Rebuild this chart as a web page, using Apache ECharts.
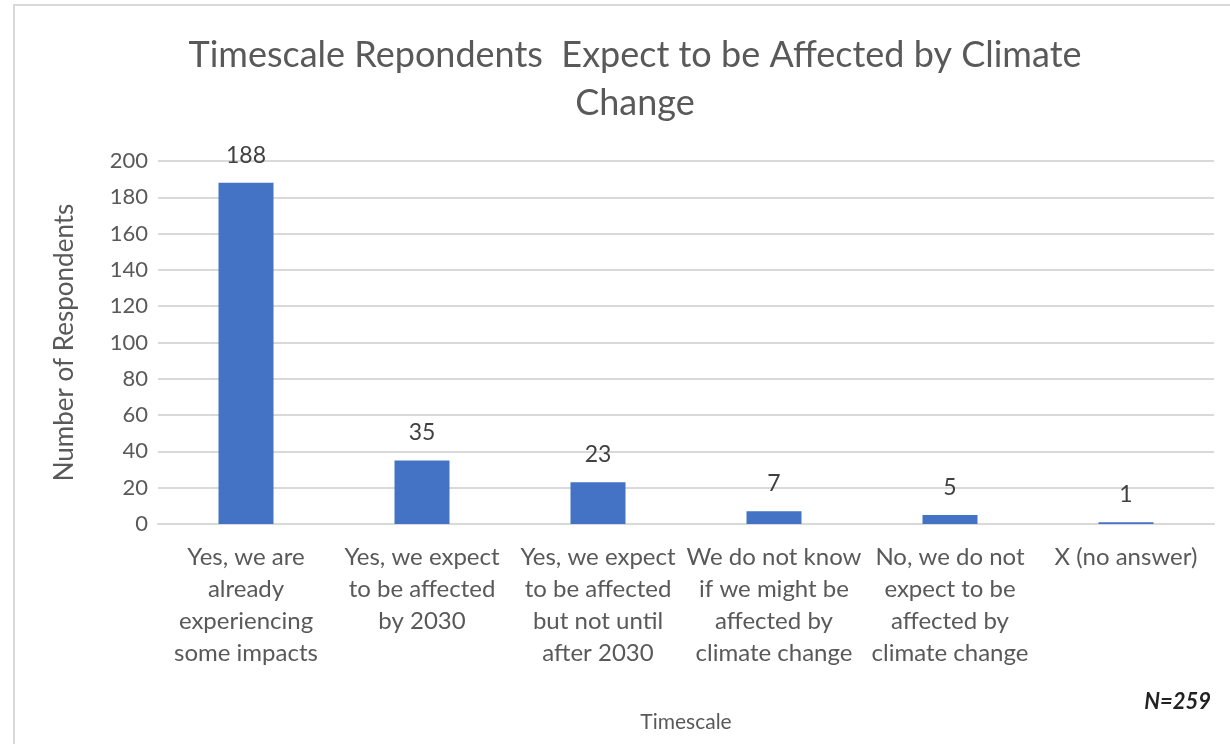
<!DOCTYPE html>
<html>
<head>
<meta charset="utf-8">
<script src="https://cdn.jsdelivr.net/npm/echarts@6/dist/echarts.min.js"></script>
<style>
  html, body { margin: 0; padding: 0; background: #fff; }
  #chart { width: 1230px; height: 744px; }
</style>
</head>
<body>
<div id="chart"></div>
<script>
// chart data
const categories = [
  'Yes, we are\nalready\nexperiencing\nsome impacts',
  'Yes, we expect\nto be affected\nby 2030',
  'Yes, we expect\nto be affected\nbut not until\nafter 2030',
  'We do not know\nif we might be\naffected by\nclimate change',
  'No, we do not\nexpect to be\naffected by\nclimate change',
  'X (no answer)'
];
const respondents = [188, 35, 23, 7, 5, 1];
const yTicks = [0, 20, 40, 60, 80, 100, 120, 140, 160, 180, 200];

const font = 'Lato, "Noto Sans", sans-serif';
const grey = '#595959';

const chart = echarts.init(document.getElementById('chart'));
chart.setOption({
  animation: false,
  backgroundColor: '#fff',
  title: {
    text: 'Timescale Repondents  Expect to be Affected by Climate\nChange',
    left: 630,
    top: 26,
    textAlign: 'center',
    textStyle: {
      fontFamily: font,
      fontSize: 36,
      fontWeight: 'normal',
      color: grey,
      lineHeight: 48
    }
  },
  grid: { left: 158, right: 16, top: 161, bottom: 220 },
  xAxis: {
    type: 'category',
    data: categories,
    name: 'Timescale',
    nameLocation: 'middle',
    nameGap: 188,
    nameTextStyle: { fontFamily: font, fontSize: 21, color: grey },
    axisTick: { show: false },
    axisLine: { lineStyle: { color: '#d9d9d9', width: 2 } },
    axisLabel: {
      interval: 0,
      margin: 17,
      fontFamily: font,
      fontSize: 24,
      lineHeight: 32,
      color: grey
    }
  },
  yAxis: {
    type: 'value',
    min: yTicks[0],
    max: yTicks[yTicks.length - 1],
    interval: 20,
    name: 'Number of Respondents',
    nameLocation: 'middle',
    nameGap: 80,
    nameTextStyle: { fontFamily: font, fontSize: 26, color: grey },
    axisLine: { show: false },
    axisTick: { show: false },
    splitLine: { lineStyle: { color: '#d9d9d9', width: 2 } },
    axisLabel: { margin: 10, fontFamily: font, fontSize: 22, color: grey }
  },
  series: [{
    type: 'bar',
    data: respondents,
    barWidth: 55,
    itemStyle: { color: '#4472C4' },
    label: {
      show: true,
      position: 'top',
      distance: 16,
      fontFamily: font,
      fontSize: 23,
      color: '#404040'
    }
  }],
  graphic: [
    {
      type: 'rect',
      shape: { x: 14, y: 5, width: 1300, height: 800 },
      style: { fill: 'none', stroke: '#d9d9d9', lineWidth: 2 },
      silent: true
    },
    {
      type: 'text',
      right: 19,
      top: 691,
      style: {
        text: 'N=259',
        fontFamily: font,
        fontSize: 22,
        fontStyle: 'italic',
        fontWeight: 'bold',
        fill: '#222'
      }
    }
  ]
});
</script>
</body>
</html>
